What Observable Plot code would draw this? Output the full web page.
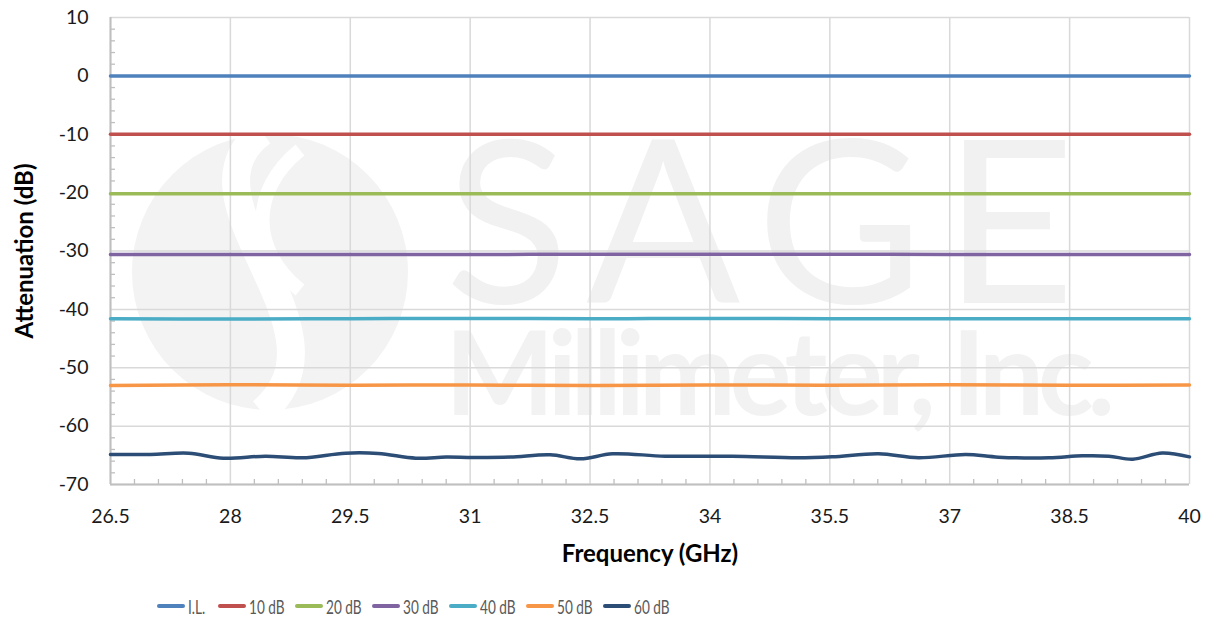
<!DOCTYPE html>
<html>
<head>
<meta charset="utf-8">
<script src="https://cdn.jsdelivr.net/npm/d3@7"></script>
<script src="https://cdn.jsdelivr.net/npm/@observablehq/plot@0.6"></script>
<style>
  html, body { margin: 0; padding: 0; background: #fff; }
  #chart { width: 1207px; }
  #legend { display: flex; align-items: center; height: 62px; padding-left: 157px; box-sizing: border-box;
            font-family: Lato, "Noto Sans", sans-serif; font-size: 20px; color: #595959; }
  .item { display: flex; align-items: center; white-space: nowrap; }
  .sw { width: 28px; height: 4px; border-radius: 2px; margin-right: 3px; flex: none; }
  .lab { display: inline-block; transform: scaleX(0.68); transform-origin: left center; }
</style>
</head>
<body>
<div id="chart"></div>
<div id="legend"></div>
<script>
// ---- data ----
const seriesNames = ["I.L.", "10 dB", "20 dB", "30 dB", "40 dB", "50 dB", "60 dB"];
const seriesColors = ["#4F81BD", "#C0504D", "#9BBB59", "#8064A2", "#4BACC6", "#F79646", "#2C4D75"];
const xTicks = [26.5, 28, 29.5, 31, 32.5, 34, 35.5, 37, 38.5, 40];
const yTicks = [-70, -60, -50, -40, -30, -20, -10, 0, 10];

const freqGrid = [26.5, 28, 29.5, 31, 32.5, 34, 35.5, 37, 38.5, 40];
const ilVals   = [0, 0, 0, 0, 0, 0, 0, 0, 0, 0];
const db10Vals = [-10, -10, -10, -10, -10, -10, -10, -10, -10, -10];
const db20Vals = [-20.2, -20.2, -20.2, -20.2, -20.2, -20.2, -20.2, -20.2, -20.2, -20.2];
const db30Vals = [-30.6, -30.6, -30.6, -30.6, -30.55, -30.55, -30.55, -30.6, -30.6, -30.6];
const db40Vals = [-41.6, -41.65, -41.6, -41.55, -41.6, -41.55, -41.6, -41.6, -41.6, -41.6];
const db50Vals = [-53.05, -52.9, -53.0, -52.95, -53.05, -52.95, -53.0, -52.9, -53.0, -52.95];

const db60Freq = [26.5, 27.0, 27.48, 27.91, 28.44, 28.9, 29.44, 29.85, 30.32, 30.7, 31.03, 31.5, 32.0, 32.38, 32.78, 33.44, 34.28, 35.1, 35.53, 36.11, 36.61, 37.2, 37.61, 38.24, 38.66, 38.99, 39.29, 39.66, 40];
const db60Vals = [-64.86, -64.85, -64.64, -65.49, -65.15, -65.43, -64.64, -64.69, -65.49, -65.3, -65.37, -65.3, -64.91, -65.6, -64.74, -65.15, -65.15, -65.43, -65.26, -64.74, -65.43, -64.86, -65.32, -65.43, -65.09, -65.15, -65.66, -64.6, -65.26];

const yMinor = [-68,-66,-64,-62,-58,-56,-54,-52,-48,-46,-44,-42,-38,-36,-34,-32,-28,-26,-24,-22,-18,-16,-14,-12,-8,-6,-4,-2,2,4,6,8];
const xMinor = [26.8,27.1,27.4,27.7,28.3,28.6,28.9,29.2,29.8,30.1,30.4,30.7,31.3,31.6,31.9,32.2,32.8,33.1,33.4,33.7,34.3,34.6,34.9,35.2,35.8,36.1,36.4,36.7,37.3,37.6,37.9,38.2,38.8,39.1,39.4,39.7];

// ---- build table ----
const flat = [ilVals, db10Vals, db20Vals, db30Vals, db40Vals, db50Vals];
const rows = [];
flat.forEach((vals, i) => vals.forEach((v, j) => rows.push({series: seriesNames[i], freq: freqGrid[j], value: v})));
db60Vals.forEach((v, j) => rows.push({series: seriesNames[6], freq: db60Freq[j], value: v}));

const grid = "#d9d9d9", axisC = "#bfbfbf";

const plot = Plot.plot({
  width: 1207, height: 575,
  marginLeft: 110, marginRight: 18, marginTop: 17, marginBottom: 91,
  style: {fontFamily: "Lato, 'Noto Sans', sans-serif", fontSize: "19.5px", color: "#1a1a1a", background: "transparent"},
  x: {domain: [26.5, 40], label: null},
  y: {domain: [-70, 10], label: null},
  color: {domain: seriesNames, range: seriesColors},
  marks: [
    Plot.gridX(xTicks, {stroke: grid, strokeOpacity: 1, strokeWidth: 1.5}),
    Plot.gridY(yTicks, {stroke: grid, strokeOpacity: 1, strokeWidth: 1.5}),
    Plot.axisY(yMinor, {tickSize: -5, text: null, label: null, stroke: axisC, strokeWidth: 1.3}),
    Plot.axisX(xMinor, {tickSize: -5, text: null, label: null, stroke: axisC, strokeWidth: 1.3}),
    Plot.ruleX([26.5], {stroke: axisC, strokeWidth: 2}),
    Plot.ruleY([-70], {stroke: axisC, strokeWidth: 2}),
    Plot.axisX(xTicks, {tickSize: 0, tickPadding: 25, tickFormat: d => String(d), label: null}),
    Plot.axisY(yTicks, {tickSize: 0, tickPadding: 22, tickFormat: d => String(d), label: null}),
    Plot.line(rows, {x: "freq", y: "value", z: "series", stroke: "series", strokeWidth: 3.5, curve: "catmull-rom"}),
    Plot.text(["Frequency (GHz)"], {frameAnchor: "bottom", lineAnchor: "middle", textAnchor: "middle", dy: 70, fontWeight: "bold", fontSize: 24, fill: "#000"}),
    Plot.text(["Attenuation (dB)"], {frameAnchor: "left", textAnchor: "middle", lineAnchor: "middle", dx: -85, rotate: -90, fontWeight: "bold", fontSize: 24, fill: "#000"})
  ]
});
document.getElementById("chart").appendChild(plot);

// ---- faint background watermark ----
const svg = d3.select(plot);
const wm = svg.insert("g", ":scope > g").attr("class", "watermark").attr("text-anchor", "start");
wm.append("circle").attr("cx", 270).attr("cy", 272).attr("r", 138).attr("fill", "#f3f3f3");
wm.append("path").attr("d", "M 262 132 C 170 200, 360 330, 262 412").attr("fill", "none").attr("stroke", "#fff").attr("stroke-width", 28);
wm.append("path").attr("d", "M 300 150 C 250 190, 250 250, 300 290").attr("fill", "none").attr("stroke", "#fff").attr("stroke-width", 14);
wm.append("text").attr("x", 445).attr("y", 303).attr("text-anchor", "start").attr("font-family", "Lato, sans-serif").attr("font-weight", 400)
  .attr("font-size", 228).attr("fill", "#f1f1f1").attr("textLength", 630).attr("lengthAdjust", "spacing").text("SAGE");
wm.append("text").attr("x", 445).attr("y", 415).attr("text-anchor", "start").attr("font-family", "Lato, sans-serif").attr("font-weight", 700)
  .attr("font-size", 116).attr("fill", "#f2f2f2").attr("textLength", 670).attr("lengthAdjust", "spacing").text("Millimeter, Inc.");

// ---- legend ----
const legend = d3.select("#legend");
seriesNames.forEach((name, i) => {
  const it = legend.append("div").attr("class", "item").style("width", (i === 0 ? 61 : 77) + "px");
  it.append("div").attr("class", "sw").style("background", seriesColors[i]);
  it.append("span").attr("class", "lab").text(name);
});
</script>
</body>
</html>
